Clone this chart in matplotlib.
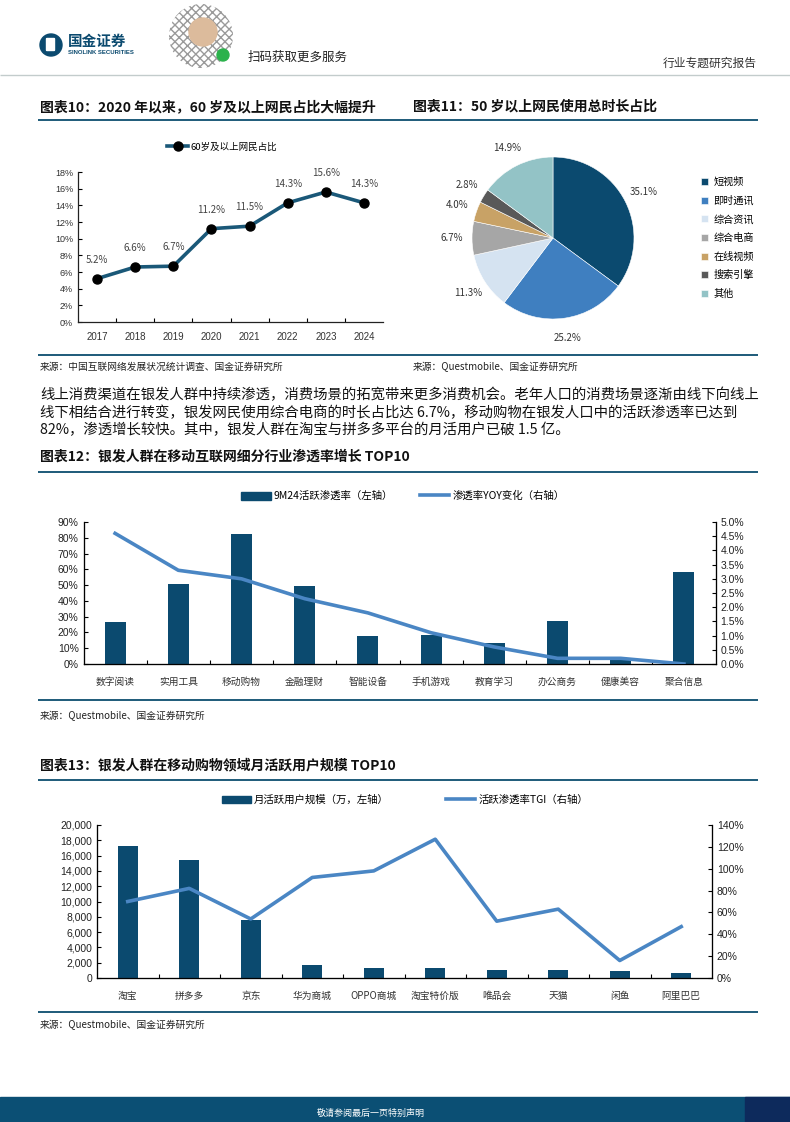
import matplotlib
matplotlib.use('Agg')
import matplotlib.pyplot as plt
from matplotlib.patches import Circle, Rectangle, Patch, FancyBboxPatch
from matplotlib.lines import Line2D
from matplotlib.ticker import FuncFormatter, MultipleLocator

plt.rcParams['font.family'] = ['Noto Sans CJK SC', 'DejaVu Sans']
NUM = ['Liberation Sans', 'Noto Sans CJK SC']

W, H = 790, 1122

# chart 10
years = ['2017', '2018', '2019', '2020', '2021', '2022', '2023', '2024']
share_60 = [5.2, 6.6, 6.7, 11.2, 11.5, 14.3, 15.6, 14.3]

# chart 11
pie_names = ['短视频', '即时通讯', '综合资讯', '综合电商', '在线视频', '搜索引擎', '其他']
pie_vals = [35.1, 25.2, 11.3, 6.7, 4.0, 2.8, 14.9]
pie_colors = ['#0b4a6f', '#3f7fc0', '#d5e3f1', '#a6a6a6', '#c8a266', '#595959', '#93c3c6']

# chart 12
cats12 = ['数字阅读', '实用工具', '移动购物', '金融理财', '智能设备', '手机游戏', '教育学习', '办公商务', '健康美容', '聚合信息']
pen_9m24 = [26.5, 51, 82.5, 49.5, 18, 18.5, 13, 27, 3, 58.5]
pen_yoy = [4.6, 3.3, 3.0, 2.3, 1.8, 1.1, 0.6, 0.2, 0.2, 0.0]

# chart 13
cats13 = ['淘宝', '拼多多', '京东', '华为商城', 'OPPO商城', '淘宝特价版', '唯品会', '天猫', '闲鱼', '阿里巴巴']
mau = [17300, 15400, 7600, 1700, 1350, 1350, 1100, 1000, 850, 700]
tgi = [70, 82, 54, 92, 98, 127, 52, 63, 16, 47]

NAVY = '#0b4a6f'
LBLUE = '#4a86c4'
RULE = '#0c4d6e'

fig = plt.figure(figsize=(7.9, 11.22), dpi=100)

# page layer in pixel coordinates
bg = fig.add_axes([0, 0, 1, 1])
bg.set_xlim(0, W)
bg.set_ylim(H, 0)
bg.axis('off')


def rect(l, t, r, b):
    return [l / W, 1 - b / H, (r - l) / W, (b - t) / H]


def rule(y, x0=38, x1=758, color=RULE, lw=1.3):
    bg.plot([x0, x1], [y, y], color=color, lw=lw, solid_capstyle='butt')


# header
bg.add_patch(Circle((51, 45), 11, color=NAVY))
bg.add_patch(FancyBboxPatch((47, 39), 7, 11, boxstyle='round,pad=0.5', color='white'))
bg.text(68, 41, '国金证券', fontsize=10.5, fontweight='bold', color=NAVY, va='center')
bg.text(68, 52, 'SINOLINK SECURITIES', fontsize=4.3, fontweight='bold', color=NAVY,
        va='center', family=NUM)
bg.add_patch(Circle((201, 36), 32, facecolor='white', edgecolor='#9a9a9a', hatch='xxxx', lw=0))
bg.add_patch(Circle((203, 32), 14, color='#dcbb9c'))
bg.add_patch(Circle((223, 55), 6, color='#2bb24c'))
bg.text(248, 57, '扫码获取更多服务', fontsize=9, color='#222222', va='center')
bg.text(757, 63, '行业专题研究报告', fontsize=8.5, color='#333333', va='center', ha='right')
rule(75, 0, 790, color='#c3cccc', lw=1.0)

# section titles and rules
tkw = dict(fontsize=10, fontweight='bold', va='center', color='#111111')
bg.text(40, 107, '图表10：2020 年以来，60 岁及以上网民占比大幅提升', **tkw)
bg.text(413, 107, '图表11：50 岁以上网民使用总时长占比', **tkw)
rule(120)
rule(355)
skw = dict(fontsize=7, va='center', color='#222222')
bg.text(40, 367, '来源：中国互联网络发展状况统计调查、国金证券研究所', **skw)
bg.text(413, 367, '来源：Questmobile、国金证券研究所', **skw)

para = ['线上消费渠道在银发人群中持续渗透，消费场景的拓宽带来更多消费机会。老年人口的消费场景逐渐由线下向线上',
        '线下相结合进行转变，银发网民使用综合电商的时长占比达 6.7%，移动购物在银发人口中的活跃渗透率已达到',
        '82%，渗透增长较快。其中，银发人群在淘宝与拼多多平台的月活用户已破 1.5 亿。']
for i, line in enumerate(para):
    bg.text(40, 395 + i * 17.5, line, fontsize=10.35, va='center', color='#111111')

bg.text(40, 457, '图表12：银发人群在移动互联网细分行业渗透率增长 TOP10', **tkw)
rule(472)
rule(700)
bg.text(40, 716, '来源：Questmobile、国金证券研究所', **skw)

bg.text(40, 765, '图表13：银发人群在移动购物领域月活跃用户规模 TOP10', **tkw)
rule(780)
rule(1012)
bg.text(40, 1025, '来源：Questmobile、国金证券研究所', **skw)

# footer
bg.add_patch(Rectangle((0, 1097), W, 25, color='#0b4f74'))
bg.add_patch(Rectangle((745, 1097), 45, 25, color='#0d2a5c'))
bg.text(371, 1113, '敬请参阅最后一页特别声明', fontsize=6.5, color='white', ha='center', va='center')


def style_cat_axis(ax, labels, fontsize=7, family=None, pad=13):
    n = len(labels)
    ax.set_xlim(-0.5, n - 0.5)
    ax.set_xticks(range(n))
    ax.set_xticks([i + 0.5 for i in range(n - 1)], minor=True)
    ax.tick_params(axis='x', which='major', length=0, pad=pad)
    ax.tick_params(axis='x', which='minor', length=3, direction='in', width=0.8)
    ax.tick_params(axis='y', direction='in', length=3, width=0.8)
    ax.set_xticklabels(labels, fontsize=fontsize, color='#333333', va='center')
    if family:
        for lb in ax.get_xticklabels():
            lb.set_family(family)
    for s in ax.spines.values():
        s.set_linewidth(0.9)
        s.set_color('#222222')
    ax.spines['top'].set_visible(False)


# chart 10: line
ax10 = fig.add_axes(rect(78, 172, 383, 322))
x10 = range(len(years))
ax10.plot(x10, share_60, color='#1a5878', lw=2.6, marker='o', ms=6.5,
          mfc='black', mec='black', label='60岁及以上网民占比')
for xi, v in zip(x10, share_60):
    ax10.annotate(f'{v:.1f}%', (xi, v), xytext=(0, 10), textcoords='offset points',
                  ha='center', va='bottom', fontsize=7, color='#444444')
ax10.set_ylim(0, 18)
ax10.yaxis.set_major_locator(MultipleLocator(2))
ax10.yaxis.set_major_formatter(FuncFormatter(lambda v, p: f'{v:.0f}%'))
style_cat_axis(ax10, years, family=NUM, pad=11)
ax10.spines['right'].set_visible(False)
for lb in ax10.get_yticklabels():
    lb.set_fontsize(6.5)
    lb.set_family(NUM)
    lb.set_color('#333333')
ax10.legend(loc='center', bbox_to_anchor=(222 / W, 1 - 147 / H), bbox_transform=fig.transFigure,
            frameon=False, fontsize=6.8, handlelength=2.2, handletextpad=0.2)

# chart 11: pie
ax11 = fig.add_axes(rect(472, 157, 634, 319))
wedges, _, autotexts = ax11.pie(pie_vals, colors=pie_colors, startangle=90, counterclock=False,
                                autopct='%.1f%%', pctdistance=1.25, radius=1,
                                wedgeprops=dict(edgecolor='white', linewidth=0.4))
for t in autotexts:
    t.set_fontsize(7)
    t.set_color('#333333')
ax11.set_xlim(-1, 1)
ax11.set_ylim(-1, 1)
ax11.legend(wedges, pie_names, loc='center left', bbox_to_anchor=(692 / W, 1 - 238 / H),
            bbox_transform=fig.transFigure, frameon=False, fontsize=7.3,
            handlelength=0.7, handleheight=0.7, handletextpad=0.5, labelspacing=0.85)

# chart 12: bars + line
ax12 = fig.add_axes(rect(83.5, 522, 715.5, 664))
x12 = range(len(cats12))
ax12.bar(x12, pen_9m24, width=0.33, color=NAVY, zorder=2)
ax12.set_ylim(0, 90)
ax12.yaxis.set_major_locator(MultipleLocator(10))
ax12.yaxis.set_major_formatter(FuncFormatter(lambda v, p: f'{v:.0f}%'))
style_cat_axis(ax12, cats12)
ax12r = ax12.twinx()
ax12r.plot(x12, pen_yoy, color=LBLUE, lw=2.6, zorder=3)
ax12r.set_ylim(0, 5)
ax12r.yaxis.set_major_locator(MultipleLocator(0.5))
ax12r.yaxis.set_major_formatter(FuncFormatter(lambda v, p: f'{v:.1f}%'))
ax12r.tick_params(axis='y', direction='in', length=3, width=0.8)
ax12r.spines['top'].set_visible(False)
for a in (ax12, ax12r):
    for lb in a.get_yticklabels():
        lb.set_fontsize(7.5)
        lb.set_family(NUM)
        lb.set_color('#222222')
h12 = [Patch(color=NAVY), Line2D([0], [0], color=LBLUE, lw=2.6)]
ax12.legend(h12, ['9M24活跃渗透率（左轴）', '渗透率YOY变化（右轴）'], loc='center', ncol=2,
            bbox_to_anchor=(403 / W, 1 - 496 / H), bbox_transform=fig.transFigure, frameon=False,
            fontsize=7.5, handlelength=2.8, handleheight=0.8, handletextpad=0.3, columnspacing=2.6)

# chart 13: bars + line
ax13 = fig.add_axes(rect(97, 825, 712, 978))
x13 = range(len(cats13))
ax13.bar(x13, mau, width=0.33, color=NAVY, zorder=2)
ax13.set_ylim(0, 20000)
ax13.yaxis.set_major_locator(MultipleLocator(2000))
ax13.yaxis.set_major_formatter(FuncFormatter(lambda v, p: f'{v:,.0f}'))
style_cat_axis(ax13, cats13)
ax13r = ax13.twinx()
ax13r.plot(x13, tgi, color=LBLUE, lw=2.6, zorder=3)
ax13r.set_ylim(0, 140)
ax13r.yaxis.set_major_locator(MultipleLocator(20))
ax13r.yaxis.set_major_formatter(FuncFormatter(lambda v, p: f'{v:.0f}%'))
ax13r.tick_params(axis='y', direction='in', length=3, width=0.8)
ax13r.spines['top'].set_visible(False)
for a in (ax13, ax13r):
    for lb in a.get_yticklabels():
        lb.set_fontsize(7.5)
        lb.set_family(NUM)
        lb.set_color('#222222')
h13 = [Patch(color=NAVY), Line2D([0], [0], color=LBLUE, lw=2.6)]
ax13.legend(h13, ['月活跃用户规模（万，左轴）', '活跃渗透率TGI（右轴）'], loc='center', ncol=2,
            bbox_to_anchor=(405 / W, 1 - 800 / H), bbox_transform=fig.transFigure, frameon=False,
            fontsize=7.5, handlelength=2.8, handleheight=0.8, handletextpad=0.3, columnspacing=5.5)

fig.savefig('out.png', dpi=100)
